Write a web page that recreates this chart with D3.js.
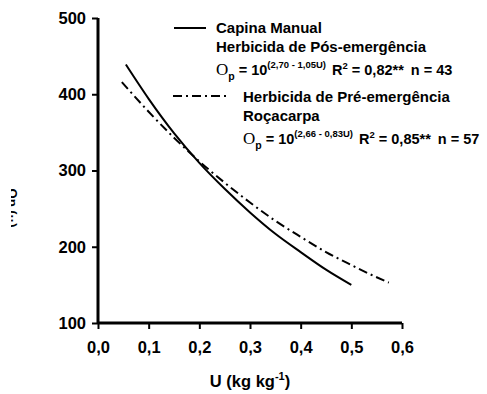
<!DOCTYPE html>
<html>
<head>
<meta charset="utf-8">
<script src="https://cdn.jsdelivr.net/npm/d3@7"></script>
<style>
  body { margin: 0; background: #fff; }
  svg { display: block; font-family: "Liberation Sans", Arial, sans-serif; }
</style>
</head>
<body>
<div id="chart"></div>
<script>
// Data
const xTicks = [0, 0.1, 0.2, 0.3, 0.4, 0.5, 0.6];
const yTicks = [100, 200, 300, 400, 500];

// Capina Manual / Herbicida de Pós-emergência (solid)
const uPos = [0.055, 0.1, 0.15, 0.2, 0.25, 0.3, 0.35, 0.4, 0.45, 0.5];
const opPos = [439, 394, 349, 310, 276, 245, 217, 193, 170, 150];

// Herbicida de Pré-emergência / Roçacarpa (dash-dot)
const uPre = [0.047, 0.1, 0.15, 0.2, 0.25, 0.3, 0.35, 0.4, 0.45, 0.5, 0.55, 0.574];
const opPre = [416, 377, 343, 312, 284, 258, 234, 213, 193, 176, 160, 153];

const width = 487, height = 394;
const margin = { top: 18, right: 85, bottom: 71, left: 98 };

const svg = d3.select('#chart')
  .append('svg')
    .attr('width', width)
    .attr('height', height);

const x = d3.scaleLinear()
  .domain([0, 0.6])
  .range([margin.left, width - margin.right]);

const y = d3.scaleLinear()
  .domain([100, 500])
  .range([height - margin.bottom, margin.top]);

const fmt = d => d3.format('.1f')(d).replace('.', ',');

// X axis
const gx = svg.append('g')
  .attr('transform', `translate(0, ${y(100)})`)
  .call(d3.axisBottom(x).tickValues(xTicks).tickSize(6).tickPadding(12).tickFormat(fmt));

// Y axis
const gy = svg.append('g')
  .attr('transform', `translate(${x(0)}, 0)`)
  .call(d3.axisLeft(y).tickValues(yTicks).tickSize(6).tickPadding(6));

[gx, gy].forEach(g => {
  g.select('.domain').attr('stroke', '#000').attr('stroke-width', 3);
  g.selectAll('.tick line').attr('stroke', '#000').attr('stroke-width', 2);
  g.selectAll('.tick text')
    .attr('fill', '#000')
    .style('font-size', '16.5px')
    .style('font-weight', 'bold')
    .style('font-family', '"Liberation Sans", Arial, sans-serif');
});
gx.select('.domain').attr('d', `M${x(0)},0H${x(0.6)}`);
gy.select('.domain').attr('d', `M0,${y(500)}V${y(100)}`);

// X title
const xt = svg.append('text')
  .attr('x', 250)
  .attr('y', 387)
  .attr('text-anchor', 'middle')
  .style('font-size', '16.5px')
  .style('font-weight', 'bold');
xt.append('tspan').text('U (kg kg');
xt.append('tspan').attr('dy', -7).style('font-size', '11px').text('-1');
xt.append('tspan').attr('dy', 7).text(')');

// Y title (only fragments survive in the original)
svg.append('defs').append('clipPath').attr('id', 'ycut')
  .append('rect').attr('x', 11).attr('y', 188).attr('width', 9).attr('height', 40);
svg.append('g')
  .attr('clip-path', 'url(#ycut)')
  .append('text')
    .attr('transform', 'translate(8, 208) rotate(90)')
    .attr('text-anchor', 'middle')
    .style('font-size', '13px')
    .style('font-weight', 'bold')
    .text('Op (\u00b7\u00b7)');

// Curves
const line = d3.line()
  .x(d => x(d[0]))
  .y(d => y(d[1]))
  .curve(d3.curveMonotoneX);

svg.append('path')
  .datum(d3.zip(uPos, opPos))
  .attr('fill', 'none')
  .attr('stroke', '#000')
  .attr('stroke-width', 2)
  .attr('d', line);

svg.append('path')
  .datum(d3.zip(uPre, opPre))
  .attr('fill', 'none')
  .attr('stroke', '#000')
  .attr('stroke-width', 2)
  .attr('stroke-dasharray', '9,4,2,4')
  .attr('d', line);

// Legend
const leg = svg.append('g');
leg.append('line')
  .attr('x1', 174).attr('x2', 206).attr('y1', 28).attr('y2', 28)
  .attr('stroke', '#000').attr('stroke-width', 2);
leg.append('line')
  .attr('x1', 173).attr('x2', 228).attr('y1', 96).attr('y2', 96)
  .attr('stroke', '#000').attr('stroke-width', 2)
  .attr('stroke-dasharray', '9,4,2,4');

function label(xp, yp, txt) {
  leg.append('text')
    .attr('x', xp).attr('y', yp)
    .style('font-size', '15px')
    .style('font-weight', 'bold')
    .text(txt);
}

function equation(xp, yp, expo, r2, n) {
  const t = leg.append('text')
    .attr('x', xp).attr('y', yp)
    .style('font-size', '14.5px')
    .style('font-weight', 'bold');
  t.append('tspan')
    .style('font-family', '"Liberation Serif", "Times New Roman", serif')
    .style('font-weight', 'normal')
    .style('font-size', '17px')
    .text('O');
  t.append('tspan').attr('dy', 5).style('font-size', '10.5px').text('p');
  t.append('tspan').attr('dy', -5).text(' = 10');
  t.append('tspan').attr('dy', -7).style('font-size', '9.5px').text(expo);
  t.append('tspan').attr('dy', 7).attr('dx', 6).text('R');
  t.append('tspan').attr('dy', -6).style('font-size', '9.5px').text('2');
  t.append('tspan').attr('dy', 6).text(` = ${r2}**`);
  t.append('tspan').attr('dx', 7).text(`n = ${n}`);
}

label(216, 33, 'Capina Manual');
label(216, 52, 'Herbicida de Pós-emergência');
equation(216, 75, '(2,70 - 1,05U)', '0,82', 43);
label(243, 102, 'Herbicida de Pré-emergência');
label(243, 121, 'Roçacarpa');
equation(243, 144, '(2,66 - 0,83U)', '0,85', 57);
</script>
</body>
</html>
